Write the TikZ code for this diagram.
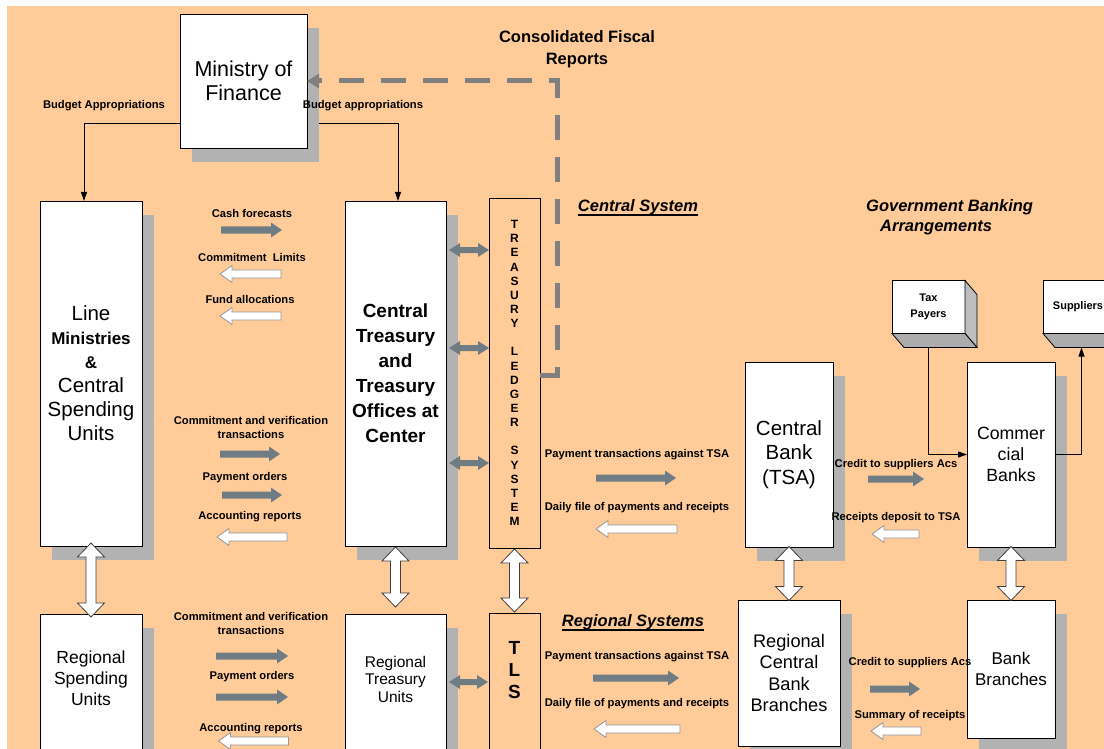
\documentclass[tikz,border=0pt]{standalone}
\usepackage{fontspec}
\setmainfont{Liberation Sans}
\usetikzlibrary{shadows,calc,arrows.meta}

\definecolor{peach}{RGB}{255,204,153}
\definecolor{shade}{RGB}{178,178,178}
\definecolor{slate}{RGB}{112,124,132}
\definecolor{rim}{RGB}{150,150,150}
\definecolor{dashgray}{RGB}{128,128,128}
\definecolor{sideA}{RGB}{190,190,190}
\definecolor{sideB}{RGB}{172,172,172}

\newcommand{\fs}[2]{\fontsize{#1}{#2}\selectfont}

\tikzset{
  box/.style={draw=black, line width=0.9pt, fill=white, inner sep=0pt, outer sep=0pt, align=center},
  shadowed/.style={drop shadow={shadow xshift=12pt, shadow yshift=-14pt, fill=shade, opacity=1}},
  ledger/.style={box, fill=peach},
  txt/.style={inner sep=0pt, align=center},
  lbl/.style={font=\bfseries\fs{11.2}{14}, inner sep=0pt, align=center},
  heading/.style={font=\bfseries\fs{16.5}{22}, inner sep=0pt, align=center},
  sectlabel/.style={font=\bfseries\itshape\fs{16.5}{20}, inner sep=0pt},
  conn/.style={draw=black, line width=0.9pt, -{Triangle[length=9pt,width=6pt]}},
  fbar/.style={line width=5pt, draw=dashgray, dash pattern=on 25pt off 17pt, -{Triangle[length=12pt,width=14pt]}},
  face/.style={draw=black, line width=0.8pt},
  % block arrow pointing along +x, centred on the pic origin:
  % length, half shaft width, half head width, head length
  pics/blockarrow/.style n args={4}{code={
    \path[pic actions] ({-#1/2},{-#2}) -- ({#1/2-#4},{-#2}) -- ({#1/2-#4},{-#3}) -- ({#1/2},0)
      -- ({#1/2-#4},{#3}) -- ({#1/2-#4},{#2}) -- ({-#1/2},{#2}) -- cycle;}},
  % block arrow with a head at both ends
  pics/twinarrow/.style n args={4}{code={
    \path[pic actions] ({-#1/2},0) -- ({-#1/2+#4},{-#3}) -- ({-#1/2+#4},{-#2}) -- ({#1/2-#4},{-#2})
      -- ({#1/2-#4},{-#3}) -- ({#1/2},0) -- ({#1/2-#4},{#3}) -- ({#1/2-#4},{#2})
      -- ({-#1/2+#4},{#2}) -- ({-#1/2+#4},{#3}) -- cycle;}},
  gflow/.style={fill=slate},
  wflow/.style={fill=white, draw=rim, line width=0.8pt, line join=miter},
  gtwin/.style={fill=slate},
  wtwin/.style={fill=white, draw=black!75, line width=0.8pt, rotate=90},
}

\begin{document}
\begin{tikzpicture}[x=1pt,y=-1pt]
\useasboundingbox (0,0) rectangle (1104,749);
\clip (0,0) rectangle (1104,749);
\fill[white] (0,0) rectangle (1104,749);
\fill[peach] (7,6) rectangle (1104,749);

% ---- central level boxes
\node[box, shadowed, minimum width=127pt, minimum height=134pt, font=\fs{21.5}{24}] (mof) at (243.5,81) {Ministry of\\Finance};
\node[box, shadowed, minimum width=102pt, minimum height=345pt, font=\fs{20.5}{24}] (lm) at (91,373.5)
  {Line\\{\bfseries\fs{17}{24}Ministries}\\{\bfseries\fs{17}{24}\&}\\Central\\Spending\\Units};
\node[box, shadowed, minimum width=101pt, minimum height=345pt, font=\bfseries\fs{19}{25}] (ct) at (395.5,373.5)
  {Central\\Treasury\\and\\Treasury\\Offices at\\Center};
\node[ledger, minimum width=51pt, minimum height=350pt, font=\bfseries\fs{12}{14.15}] (tls) at (514.5,373)
  {T\\R\\E\\A\\S\\U\\R\\Y\\[14.15pt]L\\E\\D\\G\\E\\R\\[14.15pt]S\\Y\\S\\T\\E\\M};
\node[box, shadowed, minimum width=88pt, minimum height=185pt, font=\fs{20.5}{24.5}] (cbk) at (789,454.5) {Central\\Bank\\(TSA)};
\node[box, shadowed, minimum width=88pt, minimum height=185pt, font=\fs{17.7}{21}] (comm) at (1011,454.5) {Commer\\cial\\Banks};

% ---- regional level boxes
\node[box, shadowed, minimum width=102pt, minimum height=156pt, anchor=north] (rsu) at (91,614) {};
\node[txt, font=\fs{17.5}{21}] (rsut) at (91,678) {Regional\\Spending\\Units};
\node[box, shadowed, minimum width=101pt, minimum height=156pt, anchor=north] (rtu) at (395.5,614) {};
\node[txt, font=\fs{15.5}{17.5}] (rtut) at (395.5,679) {Regional\\Treasury\\Units};
\node[ledger, minimum width=51pt, minimum height=156pt, anchor=north] (tlsr) at (514.5,613) {};
\node[txt, font=\bfseries\fs{19}{22}] (tlsrt) at (514.5,670) {T\\L\\S};
\node[box, shadowed, minimum width=102pt, minimum height=146pt, font=\fs{18.2}{21.3}] (rcbb) at (789,673) {Regional\\Central\\Bank\\Branches};
\node[box, shadowed, minimum width=88pt, minimum height=138pt, font=\fs{17}{21}] (bb) at (1011,669) {Bank\\Branches};

% ---- tax payers and suppliers as raised blocks
\node[box, minimum width=73pt, minimum height=53pt, font=\bfseries\fs{11}{16}] (tax) at (928.5,307) {Tax\\Payers};
\node[box, minimum width=77pt, minimum height=53pt] (sup) at (1081.5,307) {};
\foreach \n in {tax,sup}{
  \draw[face, fill=sideA] (\n.north east) -- ([shift={(12,14)}]\n.north east) -- ([shift={(12,14)}]\n.south east) -- (\n.south east) -- cycle;
  \draw[face, fill=sideB] (\n.south west) -- ([shift={(12,14)}]\n.south west) -- ([shift={(12,14)}]\n.south east) -- (\n.south east) -- cycle;
}
\node[txt, font=\bfseries\fs{11}{16}] (supt) at (1078,307) {Suppliers};

% ---- connectors
\draw[conn] ([yshift=-42pt]mof.west) -| ([xshift=-7pt]lm.north);
\draw[conn] ([xshift=12pt,yshift=-42pt]mof.east) -| ([xshift=2.5pt]ct.north);
\draw[fbar] ([yshift=-2pt]tls.east) -- ++(17,0) |- (mof.east);
\draw[conn] ([yshift=-14pt]tax.south) |- (comm.west);
\draw[conn] (comm.east) -| ([yshift=-14pt]sup.south);

% ---- links between treasury and ledger
\pic[gtwin] at (469,250) {twinarrow={40}{3}{7}{11}};
\pic[gtwin] at (469,348) {twinarrow={40}{3}{7}{11}};
\pic[gtwin] at (469,463) {twinarrow={40}{3}{7}{11}};
\pic[gtwin] at (468.5,682) {twinarrow={39}{3}{7}{11}};

% ---- links between central and regional levels
\pic[wtwin] at ($(lm.south)!0.5!(rsu.north)$) {twinarrow={74}{5}{13.5}{14}};
\pic[wtwin] at ($(ct.south)!0.5!(rtu.north)+(0,-3)$) {twinarrow={60}{5}{13.5}{14}};
\pic[wtwin] at ($(tls.south)!0.5!(tlsr.north)$) {twinarrow={63}{5}{13.5}{14}};
\pic[wtwin] at ($(cbk.south)!0.5!(rcbb.north)$) {twinarrow={54}{5}{13.5}{14}};
\pic[wtwin] at ($(comm.south)!0.5!(bb.north)$) {twinarrow={54}{5}{13.5}{14}};

% ---- flow arrows, spending units and treasury
\pic[gflow] at (251.5,230) {blockarrow={61}{3.5}{7.5}{11}};
\pic[wflow, rotate=180] at (250.5,274) {blockarrow={61}{4}{8.5}{12}};
\pic[wflow, rotate=180] at (250.5,316) {blockarrow={61}{4}{8.5}{12}};
\pic[gflow] at (250,454) {blockarrow={60}{3.5}{7.5}{11}};
\pic[gflow] at (252,495) {blockarrow={60}{3.5}{7.5}{11}};
\pic[wflow, rotate=180] at (252,537) {blockarrow={70}{4}{8.5}{12}};
\pic[gflow] at (252,656) {blockarrow={72}{3.5}{7.5}{11}};
\pic[gflow] at (252,697) {blockarrow={72}{3.5}{7.5}{11}};
\pic[wflow, rotate=180] at (253.5,741) {blockarrow={70}{4}{8.5}{12}};

% ---- flow arrows, ledger and banks
\pic[gflow] at (636,478) {blockarrow={80}{3.5}{7.5}{11}};
\pic[wflow, rotate=180] at (636.5,529) {blockarrow={81}{4}{8.5}{12}};
\pic[gflow] at (896,479) {blockarrow={56}{3.5}{7.5}{11}};
\pic[wflow, rotate=180] at (895.5,534) {blockarrow={47}{4}{8.5}{12}};
\pic[gflow] at (636,678) {blockarrow={86}{3.5}{7.5}{11}};
\pic[wflow, rotate=180] at (637,729) {blockarrow={86}{4}{8.5}{12}};
\pic[gflow] at (895,689) {blockarrow={50}{3.5}{7.5}{11}};
\pic[wflow, rotate=180] at (896,731) {blockarrow={50}{4}{8.5}{12}};

% ---- labels
\node[lbl] (l1) at (104,106) {Budget Appropriations};
\node[lbl] (l2) at (363,106) {Budget appropriations};
\node[heading] (cfr) at (577,49) {Consolidated Fiscal\\Reports};
\node[sectlabel] (cs) at (638,207) {Central System};
\draw[line width=1.8pt] (cs.south west) -- (cs.south east);
\node[sectlabel, align=left, anchor=west] (gba) at (866,217) {Government Banking\\\hspace*{14pt}Arrangements};
\node[sectlabel] (rs) at (633,622) {Regional Systems};
\draw[line width=1.8pt] (rs.south west) -- (rs.south east);

\node[lbl] (t1) at (252,213) {Cash forecasts};
\node[lbl] (t2) at (252,257) {Commitment\ \ Limits};
\node[lbl] (t3) at (250,299) {Fund allocations};
\node[lbl] (t4) at (251,427) {Commitment and verification\\transactions};
\node[lbl] (t5) at (245,478) {Payment orders};
\node[lbl] (t6) at (250,517) {Accounting reports};
\node[lbl] (t7) at (251,623) {Commitment and verification\\transactions};
\node[lbl] (t8) at (252,677) {Payment orders};
\node[lbl] (t9) at (251,729) {Accounting reports};

\node[lbl] (u1) at (637,455) {Payment transactions against TSA};
\node[lbl] (u2) at (637,508) {Daily file of payments and receipts};
\node[lbl] (u3) at (896,465) {Credit to suppliers Acs};
\node[lbl] (u4) at (896,518) {Receipts deposit to TSA};
\node[lbl] (u5) at (637,657) {Payment transactions against TSA};
\node[lbl] (u6) at (637,704) {Daily file of payments and receipts};
\node[lbl] (u7) at (910,663) {Credit to suppliers Acs};
\node[lbl] (u8) at (910,716) {Summary of receipts};
\end{tikzpicture}
\end{document}
